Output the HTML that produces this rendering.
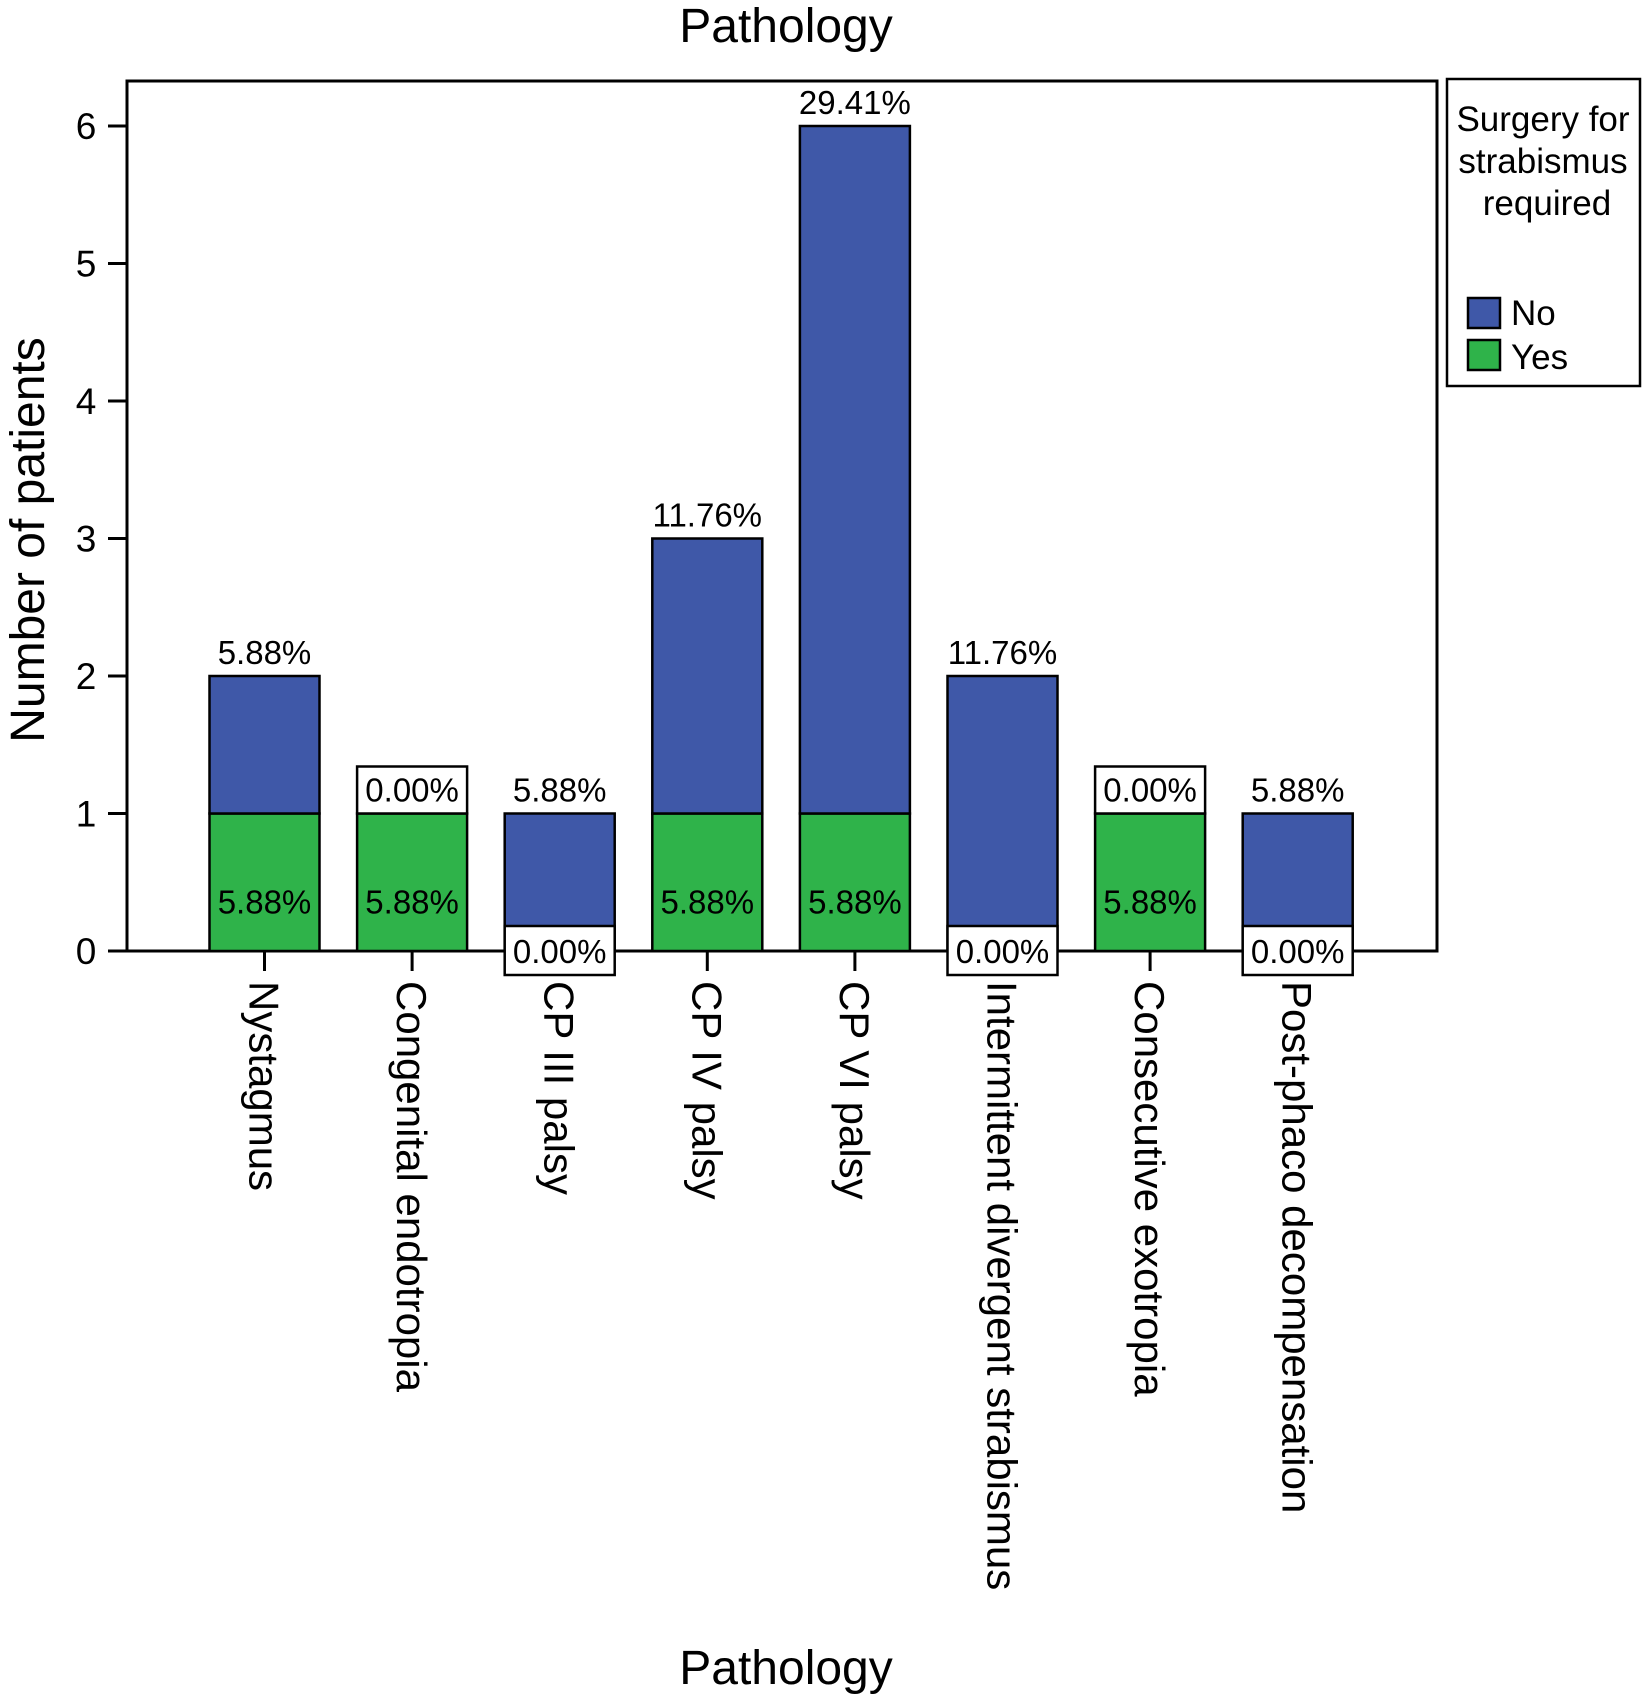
<!DOCTYPE html>
<html><head><meta charset="utf-8"><style>
body{margin:0;background:#fff;}
svg text{font-family:"Liberation Sans",Arial,sans-serif;fill:#000;}
</style></head><body>
<svg id="chart" width="1642" height="1694" viewBox="0 0 1642 1694" xmlns="http://www.w3.org/2000/svg">
<text x="786" y="42" font-size="48" text-anchor="middle">Pathology</text>
<text x="786" y="1684" font-size="48" text-anchor="middle">Pathology</text>
<text transform="translate(44,540) rotate(-90)" font-size="48" text-anchor="middle">Number of patients</text>
<rect x="127" y="81" width="1310" height="870" fill="none" stroke="#000" stroke-width="3"/>
<g id="axes"></g>
<g id="bars"></g>
<g>
<rect x="1447" y="79" width="193" height="307" fill="#fff" stroke="#000" stroke-width="2.5"/>
<text font-size="35" text-anchor="middle"><tspan x="1543" y="131">Surgery for</tspan><tspan x="1543" y="173">strabismus</tspan><tspan x="1547" y="215">required</tspan></text>
<rect x="1468" y="298" width="32" height="30" fill="#3f58a8" stroke="#000" stroke-width="2.5"/>
<text x="1511" y="325" font-size="35">No</text>
<rect x="1468" y="340" width="32" height="30" fill="#2fb34a" stroke="#000" stroke-width="2.5"/>
<text x="1511" y="369" font-size="35">Yes</text>
</g>
</svg>
<script>
const categories=["Nystagmus","Congenital endotropia","CP III palsy","CP IV palsy","CP VI palsy","Intermittent divergent strabismus","Consecutive exotropia","Post-phaco decompensation"];
const yesValues=[1,1,0,1,1,0,1,0];
const noValues=[1,0,1,2,5,2,0,1];
const yesLabels=["5.88%","5.88%","0.00%","5.88%","5.88%","0.00%","5.88%","0.00%"];
const noLabels=["5.88%","0.00%","5.88%","11.76%","29.41%","11.76%","0.00%","5.88%"];
const yTicks=[0,1,2,3,4,5,6];

const NS="http://www.w3.org/2000/svg";
const y0=951, unit=137.5, x0=264.5, step=147.6, bw=110;
const yS=v=>y0-v*unit;
const xS=i=>x0+i*step;
function mk(tag,attrs,parent,text){const e=document.createElementNS(NS,tag);for(const k in attrs)e.setAttribute(k,attrs[k]);if(text!==undefined)e.textContent=text;parent.appendChild(e);return e;}
const bars=document.getElementById('bars'), axes=document.getElementById('axes');
categories.forEach((c,i)=>{
  const cx=xS(i), x=cx-bw/2, y=yesValues[i], n=noValues[i];
  if(y>0){const r=mk('rect',{x:x,y:yS(y),width:bw,height:y*unit,fill:'#2fb34a',stroke:'#000','stroke-width':2.5},bars);
    
    }
  if(n>0){const r=mk('rect',{x:x,y:yS(y+n),width:bw,height:n*unit,fill:'#3f58a8',stroke:'#000','stroke-width':2.5},bars);
    
    }
  if(y>0){const t=mk('text',{x:cx,y:yS(y*0.36)+12,'font-size':33,'text-anchor':'middle'},bars,yesLabels[i]);
    
    }
  else{const b=mk('rect',{x:x,y:y0-25,width:bw,height:49,fill:'#fff',stroke:'#000','stroke-width':2.5},bars);
    
    
    const t=mk('text',{x:cx,y:y0+12,'font-size':33,'text-anchor':'middle'},bars,yesLabels[i]);
    
    }
  const top=yS(y+n);
  if(n>0){const t=mk('text',{x:cx,y:top-12,'font-size':33,'text-anchor':'middle'},bars,noLabels[i]);
    
    }
  else{const b=mk('rect',{x:x,y:top-47,width:bw,height:47,fill:'#fff',stroke:'#000','stroke-width':2.5},bars);
    
    
    const t=mk('text',{x:cx,y:top-12,'font-size':33,'text-anchor':'middle'},bars,noLabels[i]);
    
    }
  const tk=mk('line',{x1:cx,x2:cx,y1:y0,y2:y0+20,stroke:'#000','stroke-width':3},axes);
  
  
  const lb=mk('text',{transform:`translate(${cx-15},981) rotate(90)`,'font-size':42},axes,c);
  
  
});
yTicks.forEach(v=>{
  const l=mk('line',{x1:108,x2:127,y1:yS(v),y2:yS(v),stroke:'#000','stroke-width':3},axes);
  
  
  const t=mk('text',{x:86,y:yS(v)+13,'font-size':37,'text-anchor':'middle'},axes,String(v));
  
  
});
const ax=mk('line',{x1:108,x2:1437,y1:y0,y2:y0,stroke:'#000','stroke-width':3},axes);


</script>
</body></html>
